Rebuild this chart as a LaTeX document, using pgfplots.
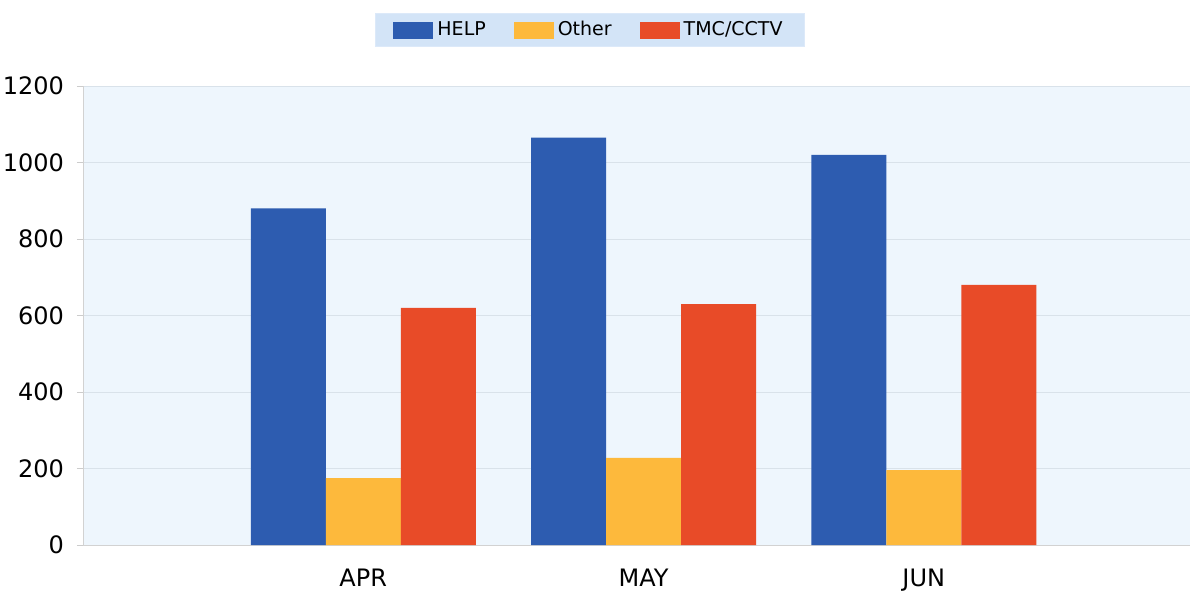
\documentclass[border=0pt]{standalone}
\usepackage{fontspec}
\setmainfont{DejaVu Sans}
\usepackage{pgfplots}
\pgfplotsset{compat=1.18}
\definecolor{helpc}{HTML}{2D5CB0}
\definecolor{otherc}{HTML}{FDB93C}
\definecolor{tmcc}{HTML}{E84B28}
\definecolor{bgc}{HTML}{EEF6FD}
\definecolor{gridc}{HTML}{D9E2EA}
\definecolor{legbg}{HTML}{D3E4F7}
\begin{document}
\begin{tikzpicture}
\begin{axis}[
  at={(41.5pt,22.5pt)}, anchor=south west,
  scale only axis,
  width=553.5pt, height=229.5pt,
  ybar=0pt, bar width=37.5pt,
  xmin=-1, xmax=2.95,
  ymin=0, ymax=1200,
  xtick={0,1,2}, xticklabels={APR,MAY,JUN},
  ytick={0,200,400,600,800,1000,1200},
  /pgf/number format/assume math mode=true,
  /pgf/number format/set thousands separator={},
  tick label style={font=\fontsize{12}{14}\selectfont},
  x tick label style={yshift=-5.5pt},
  y tick label style={xshift=-3pt},
  major x tick style={draw=none},
  major y tick style={draw=gray!40},
  tick align=outside, major tick length=3pt,
  ymajorgrids, grid style={gridc, line width=0.5pt},
  axis background/.style={fill=bgc},
  axis x line*=bottom, axis y line*=left,
  axis line style={draw=gray!35},
  legend style={at={(0.458,1.122)}, anchor=center, legend columns=3,
    fill=legbg, draw=legbg!80!white, font=\fontsize{9.5}{11}\selectfont,
    /tikz/every even column/.append style={column sep=12pt}, inner ysep=2pt, inner xsep=9pt},
  legend image code/.code={\fill[#1] (0pt,-4.25pt) rectangle (20pt,4.25pt);},
]
\addplot[fill=helpc, draw=none] coordinates {(0,880) (1,1065) (2,1020)};
\addplot[fill=otherc, draw=none] coordinates {(0,175) (1,228) (2,196)};
\addplot[fill=tmcc, draw=none] coordinates {(0,620) (1,630) (2,680)};
\legend{HELP,Other,TMC/CCTV}
\end{axis}
\pgfresetboundingbox
\path[use as bounding box] (0,0) rectangle (596.5pt,295pt);
\end{tikzpicture}
\end{document}
